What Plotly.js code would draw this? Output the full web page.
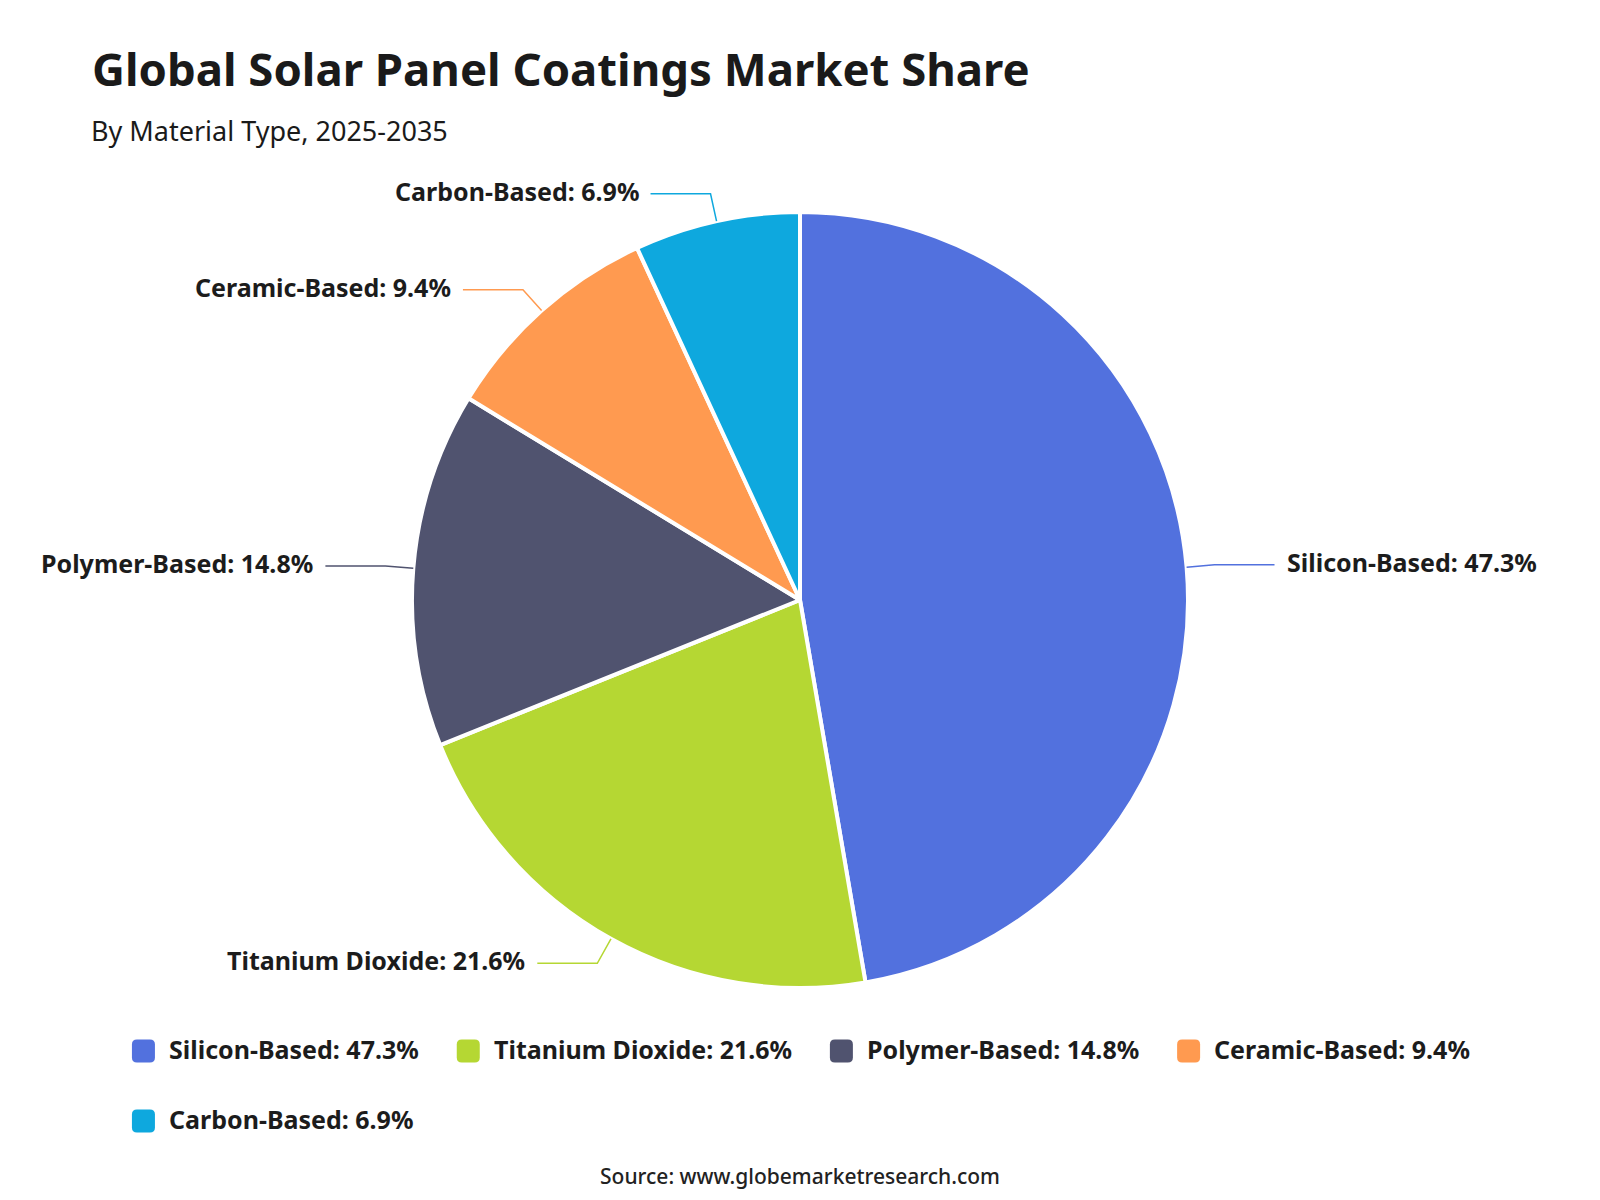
<!DOCTYPE html>
<html>
<head>
<meta charset="utf-8">
<script src="https://cdn.plot.ly/plotly-3.0.1.min.js"></script>
<style>
  html, body { margin: 0; padding: 0; background: #ffffff; }
  #chart { width: 1600px; height: 1200px; }
</style>
</head>
<body>
<div id="chart"></div>
<script>
// Market share by coating material (percent)
const materials = ['Silicon-Based', 'Titanium Dioxide', 'Polymer-Based', 'Ceramic-Based', 'Carbon-Based'];
const shares = [47.3, 21.6, 14.8, 9.4, 6.9];
const sliceColors = ['#5271DE', '#B5D733', '#50536F', '#FF9A50', '#0EA8DE'];

const chartTitle = 'Global Solar Panel Coatings Market Share';
const chartSubtitle = 'By Material Type, 2025-2035';
const sourceNote = 'Source: www.globemarketresearch.com';

// Page geometry (pixels)
const W = 1600, H = 1200;
const CX = 800, CY = 600, R = 388;
const FONT = "'Noto Sans', 'Open Sans', sans-serif";
const TEXT_COLOR = '#1c1c1c';
const px = x => x / W;
const py = y => 1 - y / H;

const labelText = materials.map((m, i) => `${m}: ${shares[i].toFixed(1)}%`);
const total = shares.reduce((a, b) => a + b, 0);

const shapes = [];
const annotations = [];

// Outside labels with elbow leader lines, placed at each slice's mid-angle
const LEN1 = 28, LEN2 = 60, GAP = 10, LABEL_SIZE = 25;
let cum = 0;
shares.forEach((v, i) => {
  const mid = (cum + v / 2) / total * 2 * Math.PI;
  cum += v;
  const s = Math.sin(mid), c = Math.cos(mid);
  const x0 = CX + R * s, y0 = CY - R * c;
  const x1 = CX + (R + LEN1) * s, y1 = CY - (R + LEN1) * c;
  const dir = s >= 0 ? 1 : -1;
  const x2 = x1 + dir * LEN2;
  shapes.push({
    type: 'path', xref: 'paper', yref: 'paper',
    path: `M${px(x0)},${py(y0)} L${px(x1)},${py(y1)} L${px(x2)},${py(y1)}`,
    line: { color: sliceColors[i], width: 1.5 },
    layer: 'above'
  });
  annotations.push({
    xref: 'paper', yref: 'paper',
    x: px(x2 + dir * GAP), y: py(y1 - 3),
    xanchor: dir > 0 ? 'left' : 'right', yanchor: 'middle',
    text: labelText[i], showarrow: false,
    font: { family: FONT, size: LABEL_SIZE, weight: 700, color: TEXT_COLOR }
  });
});

// Legend: rounded swatches followed by bold text, wrapped and centred
const LEG_FONT_SIZE = 25;
const ctx = document.createElement('canvas').getContext('2d');
ctx.font = `700 ${LEG_FONT_SIZE}px ${FONT}`;
const SW = 23, SH = 23, SR = 5, SWATCH_GAP = 12, ITEM_GAP = 40, MAX_ROW = 1400;
const ROW_Y = [1051, 1121];
const items = labelText.map(t => ({ text: t, w: SW + SWATCH_GAP + ctx.measureText(t).width }));
const rows = [[]];
let rowW = 0;
items.forEach((it, i) => {
  const add = (rows[rows.length - 1].length ? ITEM_GAP : 0) + it.w;
  if (rows[rows.length - 1].length && rowW + add > MAX_ROW) { rows.push([]); rowW = 0; }
  rowW += (rows[rows.length - 1].length ? ITEM_GAP : 0) + it.w;
  rows[rows.length - 1].push(i);
});
const rowWidths = rows.map(r => r.reduce((a, i, k) => a + items[i].w + (k ? ITEM_GAP : 0), 0));
const legLeft = CX - Math.max(...rowWidths) / 2;

function roundedRect(x, y, w, h, r) {
  return `M${px(x + r)},${py(y)} L${px(x + w - r)},${py(y)} Q${px(x + w)},${py(y)} ${px(x + w)},${py(y + r)} ` +
         `L${px(x + w)},${py(y + h - r)} Q${px(x + w)},${py(y + h)} ${px(x + w - r)},${py(y + h)} ` +
         `L${px(x + r)},${py(y + h)} Q${px(x)},${py(y + h)} ${px(x)},${py(y + h - r)} ` +
         `L${px(x)},${py(y + r)} Q${px(x)},${py(y)} ${px(x + r)},${py(y)} Z`;
}

rows.forEach((r, ri) => {
  let x = legLeft;
  const yc = ROW_Y[ri] || (ROW_Y[0] + ri * 70);
  r.forEach(i => {
    shapes.push({
      type: 'path', xref: 'paper', yref: 'paper',
      path: roundedRect(x, yc - SH / 2, SW, SH, SR),
      fillcolor: sliceColors[i], line: { width: 0 }
    });
    annotations.push({
      xref: 'paper', yref: 'paper',
      x: px(x + SW + SWATCH_GAP), y: py(yc - 2),
      xanchor: 'left', yanchor: 'middle',
      text: items[i].text, showarrow: false,
      font: { family: FONT, size: LEG_FONT_SIZE, weight: 700, color: TEXT_COLOR }
    });
    x += items[i].w + ITEM_GAP;
  });
});

// Title, subtitle and source line
annotations.push({
  xref: 'paper', yref: 'paper', x: px(90), y: py(68),
  xanchor: 'left', yanchor: 'middle', showarrow: false,
  text: chartTitle,
  font: { family: FONT, size: 45.5, weight: 700, color: '#1a1a1a' }
});
annotations.push({
  xref: 'paper', yref: 'paper', x: px(89), y: py(130),
  xanchor: 'left', yanchor: 'middle', showarrow: false,
  text: chartSubtitle,
  font: { family: FONT, size: 27, color: '#1a1a1a' }
});
annotations.push({
  xref: 'paper', yref: 'paper', x: px(800), y: py(1176),
  xanchor: 'center', yanchor: 'middle', showarrow: false,
  text: sourceNote,
  font: { family: FONT, size: 21, weight: 500, color: '#222222' }
});

const trace = {
  type: 'pie',
  labels: materials,
  values: shares,
  sort: false,
  direction: 'clockwise',
  rotation: 0,
  textinfo: 'none',
  hoverinfo: 'label+percent',
  marker: { colors: sliceColors, line: { color: '#ffffff', width: 4 } },
  domain: { x: [px(CX - R), px(CX + R)], y: [py(CY + R), py(CY - R)] },
  showlegend: false
};

const layout = {
  width: W, height: H,
  margin: { l: 0, r: 0, t: 0, b: 0 },
  paper_bgcolor: '#ffffff',
  plot_bgcolor: '#ffffff',
  showlegend: false,
  shapes: shapes,
  annotations: annotations,
  font: { family: FONT }
};

Plotly.newPlot('chart', [trace], layout, { displayModeBar: false, staticPlot: true });
</script>
</body>
</html>
